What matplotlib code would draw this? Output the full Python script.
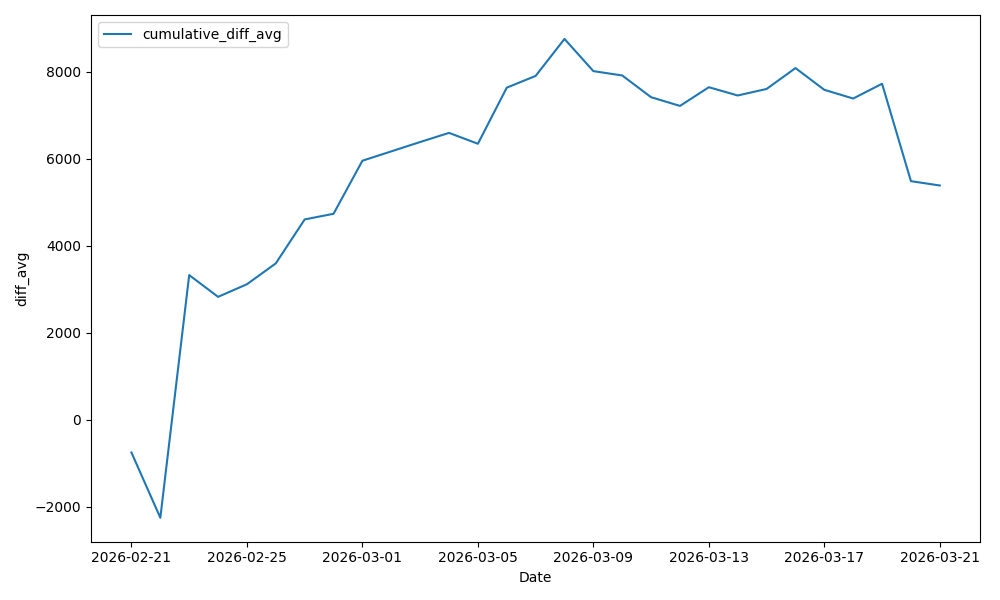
import numpy as np
import pandas as pd
import matplotlib
matplotlib.use("Agg")
import matplotlib.pyplot as plt

dates = pd.date_range("2026-02-21", "2026-03-21", freq="D")
cumulative_diff_avg = [
    -750, -2250, 3330, 2830, 3120, 3600, 4610, 4740,
    5960, 6175, 6390, 6600, 6350, 7640, 7910, 8760,
    8020, 7920, 7420, 7220, 7650, 7460, 7610, 8090,
    7590, 7390, 7730, 5490, 5390,
]

df = pd.DataFrame({"cumulative_diff_avg": cumulative_diff_avg}, index=dates)

fig, ax = plt.subplots(figsize=(10, 6))
ax.plot(df.index, df["cumulative_diff_avg"], label="cumulative_diff_avg")
ax.set_xlabel("Date")
ax.set_ylabel("diff_avg")
ax.legend(loc="upper left")
plt.tight_layout()
plt.savefig("out.png", dpi=100)
